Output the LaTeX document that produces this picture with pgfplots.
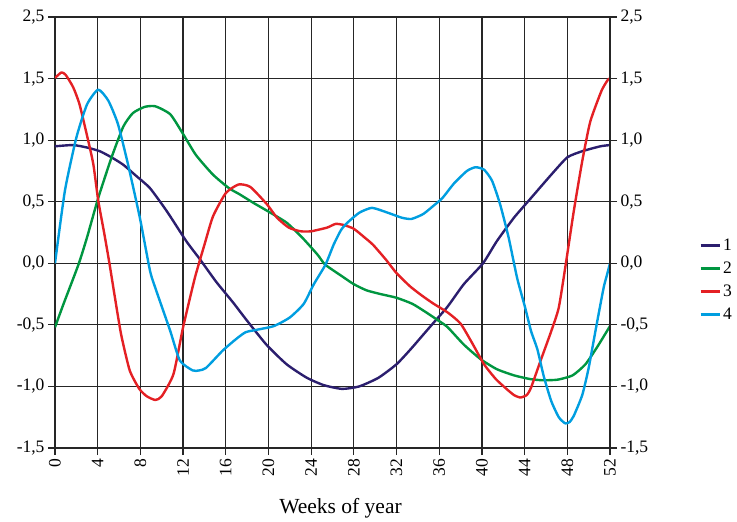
\documentclass[border=0pt]{standalone}
\usepackage{pgfplots}
\pgfplotsset{compat=1.18}
\usepackage{fontspec}
\setmainfont{Liberation Serif}
\definecolor{c1}{RGB}{43,30,110}
\definecolor{c2}{RGB}{0,150,64}
\definecolor{c3}{RGB}{228,32,36}
\definecolor{c4}{RGB}{0,158,224}
\begin{document}
\begin{tikzpicture}
\pgfplotsset{
  common/.style={
    width=555pt, height=431pt, scale only axis,
    xmin=0, xmax=52, ymin=-1.5, ymax=2,
    xtick={0,4,...,52},
    ytick={-1.5,-1,-0.5,0,0.5,1,1.5,2},
    yticklabels={{-1,5},{-1,0},{-0,5},{0,0},{0,5},{1,0},{1,5},{2,5}},
    tick align=outside,
    major tick length=7pt,
    tick style={line width=1.2pt, black!85},
    ticklabel style={font=\fontsize{17.5}{20}\selectfont},
  }
}
\begin{axis}[common,
  xtick pos=bottom, ytick pos=left,
  xticklabels={0,4,8,12,16,20,24,28,32,36,40,44,48,52},
  xticklabel style={rotate=90, anchor=east},
  grid=major,
  grid style={line width=1.2pt, black!85},
  axis line style={line width=1.2pt, black!85},
  xlabel={Weeks of year},
  xlabel style={font=\fontsize{21.5}{25}\selectfont, at={(rel axis cs:0.5,0)}, anchor=center, yshift=-60pt, xshift=8pt},
  legend style={draw=none, fill=none, at={(rel axis cs:1.155,0.39)}, anchor=west,
    font=\fontsize{17.5}{20}\selectfont, row sep=6pt},
  legend cell align=left,
  legend image code/.code={\draw[#1, line width=3pt] (0pt,0pt) -- (19pt,0pt);},
  every axis plot/.append style={line width=2.4pt, line join=round, smooth, tension=0.35},
]
\addplot[c1] coordinates {(0,0.95)(1.7,0.96)(3,0.94)(4.2,0.91)(5.3,0.86)(6.4,0.80)(7.6,0.71)(8.9,0.61)(10.5,0.42)(12.3,0.18)(13.6,0.03)(15.1,-0.15)(16.7,-0.32)(17.85,-0.45)(19.8,-0.66)(21.7,-0.82)(23.6,-0.93)(25.2,-0.99)(26.9,-1.02)(28.5,-1.0)(30.3,-0.93)(32,-0.82)(33.3,-0.70)(34.4,-0.59)(35.5,-0.48)(36.8,-0.35)(38.3,-0.17)(40.1,0.0)(41.4,0.18)(43,0.37)(44.5,0.52)(46.5,0.72)(48,0.86)(49.4,0.91)(51.1,0.95)(52,0.96)};
\addlegendentry{1}
\addplot[c2] coordinates {(0,-0.52)(0.8,-0.33)(2.2,-0.01)(3.0,0.21)(4.05,0.53)(5.3,0.86)(6.4,1.11)(7.3,1.22)(8.4,1.27)(9.4,1.275)(10.8,1.21)(12,1.05)(13.2,0.88)(14.8,0.72)(16.3,0.61)(17.3,0.56)(18.6,0.49)(20,0.42)(21.7,0.33)(23.15,0.21)(24.6,0.07)(25.3,-0.01)(26.8,-0.10)(28,-0.17)(29.2,-0.22)(30.5,-0.25)(32,-0.28)(33.5,-0.33)(34.8,-0.40)(36,-0.47)(36.8,-0.52)(38.3,-0.66)(39.9,-0.78)(41.4,-0.86)(43,-0.91)(44.5,-0.94)(45.7,-0.95)(47.1,-0.945)(48.5,-0.91)(49.7,-0.82)(50.8,-0.68)(52,-0.51)};
\addlegendentry{2}
\addplot[c3] coordinates {(0,1.505)(0.6,1.55)(1.0,1.53)(1.7,1.43)(2.3,1.29)(3.1,1.0)(3.6,0.80)(4.05,0.51)(4.6,0.25)(5.1,0.0)(5.6,-0.27)(6.2,-0.58)(7.0,-0.87)(7.9,-1.02)(8.6,-1.08)(9.4,-1.11)(10.0,-1.08)(11.1,-0.9)(12,-0.52)(13.1,-0.12)(14.0,0.15)(14.8,0.38)(16.0,0.57)(17.2,0.64)(18.3,0.62)(19.85,0.48)(20.8,0.37)(21.9,0.29)(23.0,0.26)(24,0.26)(25.5,0.29)(26.3,0.32)(27.1,0.31)(28,0.28)(29,0.21)(29.8,0.15)(31,0.03)(32,-0.08)(33.3,-0.19)(34.5,-0.27)(35.5,-0.33)(36.8,-0.40)(38,-0.49)(39.1,-0.65)(40.2,-0.82)(41.3,-0.94)(42.3,-1.02)(43.0,-1.07)(43.6,-1.09)(44.2,-1.07)(44.6,-1.01)(45.5,-0.79)(46.5,-0.55)(47.2,-0.36)(47.85,-0.01)(48.6,0.42)(49.4,0.83)(50.15,1.15)(51.2,1.40)(51.8,1.49)(52,1.5)};
\addlegendentry{3}
\addplot[c4] coordinates {(0,0.0)(0.93,0.59)(2.0,1.02)(3.0,1.29)(4.05,1.41)(5.0,1.32)(5.9,1.13)(6.85,0.80)(7.95,0.37)(8.9,-0.06)(9.4,-0.2)(10.8,-0.55)(11.7,-0.79)(12.9,-0.87)(13.5,-0.87)(14.15,-0.85)(15.7,-0.71)(16.9,-0.62)(17.85,-0.56)(18.9,-0.54)(20.5,-0.51)(22.0,-0.44)(23.3,-0.33)(24.25,-0.17)(25.35,-0.01)(26.1,0.15)(26.8,0.27)(27.4,0.33)(28.5,0.41)(29.7,0.45)(31.2,0.41)(32.5,0.37)(33.4,0.36)(34.5,0.40)(35.5,0.47)(36.3,0.53)(37.4,0.65)(38.6,0.75)(39.4,0.78)(40.2,0.76)(40.95,0.67)(41.7,0.48)(42.5,0.21)(43.3,-0.12)(44.05,-0.36)(44.6,-0.55)(45.2,-0.70)(45.8,-0.92)(46.5,-1.12)(47.2,-1.25)(47.8,-1.30)(48.2,-1.29)(48.6,-1.24)(49.4,-1.07)(50.0,-0.85)(50.7,-0.52)(51.4,-0.20)(51.7,-0.10)(52,0.0)};
\addlegendentry{4}
\end{axis}
\begin{axis}[common,
  axis x line=none, axis y line*=right,
  axis line style={line width=1.2pt, black!85},
  ytick pos=right,
]
\end{axis}
\pgfresetboundingbox
\path ([shift={(-55pt,-74pt)}]current axis.south west) rectangle ([shift={(127pt,17pt)}]current axis.north east);
\end{tikzpicture}
\end{document}
